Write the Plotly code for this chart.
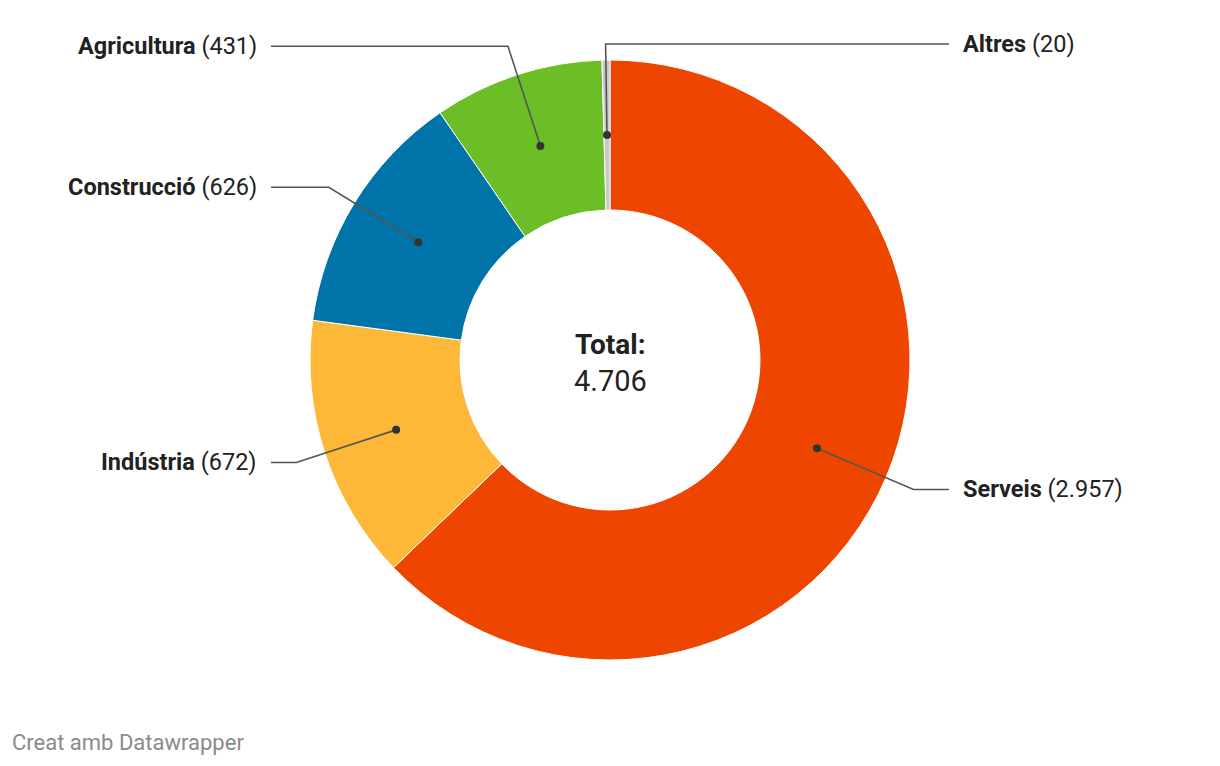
import math
import plotly.graph_objects as go

categories = ["Serveis", "Indústria", "Construcció", "Agricultura", "Altres"]
values = [2957, 672, 626, 431, 20]
value_labels = ["2.957", "672", "626", "431", "20"]
colors = ["#ee4600", "#fdb838", "#0074a8", "#6cbe27", "#c8c8c8"]
total_label = "4.706"

W, H = 1220, 766
CX, CY, R_OUT, HOLE = 610, 360, 300, 0.5
R_DOT, R_ELBOW, X_OFF, TXT_GAP, TOP_Y = 225, 330, 339, 12, 44

fig = go.Figure()
fig.add_trace(go.Pie(
    labels=categories, values=values, sort=False, direction="clockwise", rotation=0,
    hole=HOLE, marker=dict(colors=colors, line=dict(color="white", width=1)),
    textinfo="none", hoverinfo="skip", showlegend=False,
    domain=dict(x=[(CX - R_OUT) / W, (CX + R_OUT) / W],
                y=[1 - (CY + R_OUT) / H, 1 - (CY - R_OUT) / H]),
))

tot = sum(values)
cum = 0
annotations = []
shapes = []
for name, v, vl in zip(categories, values, value_labels):
    mid = (cum + v / 2) / tot * 2 * math.pi
    cum += v
    sx, sy = math.sin(mid), -math.cos(mid)
    dx, dy = CX + R_DOT * sx, CY + R_DOT * sy
    ex, ey = CX + R_ELBOW * sx, max(CY + R_ELBOW * sy, TOP_Y)
    right = sx >= -0.05
    hx = CX + X_OFF if right else CX - X_OFF
    shapes.append(dict(type="path", xref="x", yref="y", layer="above",
                       path=f"M{dx},{dy} L{ex},{ey} L{hx},{ey}",
                       line=dict(color="#555555", width=1.6)))
    shapes.append(dict(type="circle", xref="x", yref="y", layer="above",
                       x0=dx - 4, x1=dx + 4, y0=dy - 4, y1=dy + 4,
                       fillcolor="#333333", line=dict(width=0)))
    annotations.append(dict(
        x=hx + (TXT_GAP if right else -TXT_GAP), y=ey, xref="x", yref="y",
        text=f"<b>{name}</b> ({vl})", showarrow=False,
        xanchor="left" if right else "right", yanchor="middle",
        font=dict(family="Roboto", size=23.5, color="#222222"),
    ))

annotations.append(dict(x=CX, y=CY - 16, xref="x", yref="y", text="<b>Total:</b>",
                        showarrow=False, xanchor="center", yanchor="middle",
                        font=dict(family="Roboto", size=28, color="#222222")))
annotations.append(dict(x=CX, y=CY + 21, xref="x", yref="y", text=total_label,
                        showarrow=False, xanchor="center", yanchor="middle",
                        font=dict(family="Roboto", size=29, color="#222222")))
annotations.append(dict(x=10, y=742, xref="x", yref="y", text="Creat amb Datawrapper",
                        showarrow=False, xanchor="left", yanchor="middle",
                        font=dict(family="Roboto", size=22, color="#8a8a8a")))

fig.update_layout(
    width=W, height=H, margin=dict(l=0, r=0, t=0, b=0),
    paper_bgcolor="white", plot_bgcolor="rgba(0,0,0,0)",
    xaxis=dict(range=[0, W], visible=False, domain=[0, 1], fixedrange=True),
    yaxis=dict(range=[H, 0], visible=False, domain=[0, 1], fixedrange=True),
    annotations=annotations, shapes=shapes, font=dict(family="Roboto"),
)
fig.write_html("out.html", config={"displayModeBar": False})
